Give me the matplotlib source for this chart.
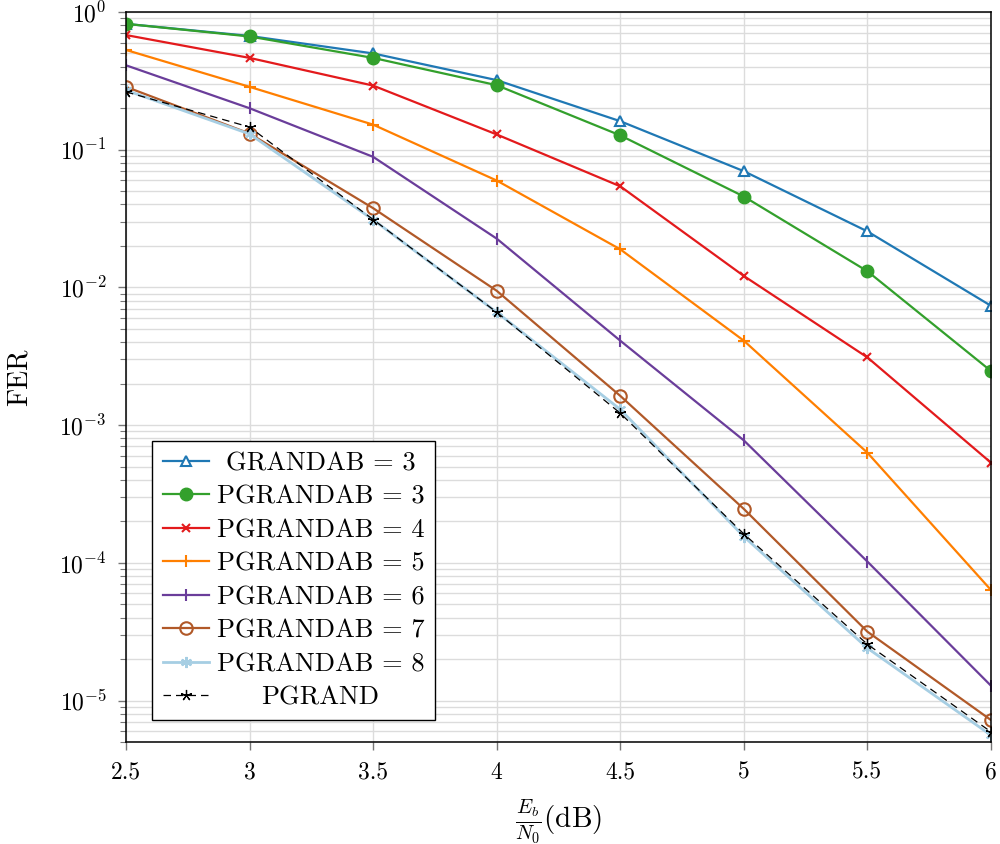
import matplotlib
matplotlib.use("Agg")
import matplotlib.pyplot as plt
from matplotlib.ticker import LogLocator, NullFormatter

plt.rcParams.update({
    "font.family": "serif",
    "font.serif": ["cmr10"],
    "mathtext.fontset": "cm",
    "axes.unicode_minus": False,
    "axes.formatter.use_mathtext": True,
})

# Eb/N0 in dB
snr_db = [2.5, 3.0, 3.5, 4.0, 4.5, 5.0, 5.5, 6.0]
x_tick_labels = ["2.5", "3", "3.5", "4", "4.5", "5", "5.5", "6"]

# Frame error rates
fer_grandab3 = [0.82, 0.67, 0.50, 0.32, 0.161, 0.0698, 0.0255, 0.00735]
fer_pgrandab3 = [0.82, 0.664, 0.464, 0.294, 0.127, 0.0457, 0.0131, 0.00247]
fer_pgrandab4 = [0.68, 0.464, 0.292, 0.129, 0.0542, 0.0121, 0.0031, 5.33e-4]
fer_pgrandab5 = [0.53, 0.286, 0.152, 0.0597, 0.0189, 0.0041, 6.3e-4, 6.34e-5]
fer_pgrandab6 = [0.41, 0.20, 0.0887, 0.0226, 0.0041, 7.74e-4, 1.02e-4, 1.28e-5]
fer_pgrandab7 = [0.286, 0.131, 0.0376, 0.00945, 1.63e-3, 2.46e-4, 3.16e-5, 7.21e-6]
fer_pgrandab8 = [0.27, 0.13, 0.031, 0.0066, 1.30e-3, 1.55e-4, 2.4e-5, 5.6e-6]
fer_pgrand = [0.263, 0.146, 0.0311, 0.0066, 1.22e-3, 1.62e-4, 2.56e-5, 5.92e-6]

labels = [
    "GRANDAB = 3",
    "PGRANDAB = 3",
    "PGRANDAB = 4",
    "PGRANDAB = 5",
    "PGRANDAB = 6",
    "PGRANDAB = 7",
    "PGRANDAB = 8",
    "PGRAND",
]

fig = plt.figure(figsize=(10, 8.44), dpi=100)
ax = fig.add_axes([0.126, 0.1209, 0.865, 0.8649])

lw = 1.6
ax.plot(snr_db, fer_grandab3, color="#1f78b4", lw=lw, marker="^", ms=7,
        mfc="white", mew=1.5, label=labels[0])
ax.plot(snr_db, fer_pgrandab3, color="#33a02c", lw=lw, marker="o", ms=9,
        label=labels[1])
ax.plot(snr_db, fer_pgrandab4, color="#e31a1c", lw=lw, marker="x", ms=6,
        mew=1.5, label=labels[2])
ax.plot(snr_db, fer_pgrandab5, color="#ff7f00", lw=lw, marker="+", ms=9,
        mew=1.5, label=labels[3])
ax.plot(snr_db, fer_pgrandab6, color="#6a3d9a", lw=lw, marker="|", ms=9,
        mew=1.5, label=labels[4])
ax.plot(snr_db, fer_pgrandab7, color="#b15928", lw=lw, marker="o", ms=9,
        mfc="none", mew=1.5, label=labels[5])
ax.plot(snr_db, fer_pgrandab8, color="#a6cee3", lw=2.0, marker=(6, 2, 0), ms=8,
        mew=1.5, label=labels[6])
ax.plot(snr_db, fer_pgrand, color="black", lw=0.9, ls=(0, (6, 4)),
        marker=(5, 2, 0), ms=8, mew=0.9, label=labels[7])

ax.set_yscale("log")
ax.set_xlim(2.5, 6.0)
ax.set_ylim(5e-6, 1.0)
ax.set_xticks(snr_db)
ax.set_xticklabels(x_tick_labels)
ax.yaxis.set_major_locator(LogLocator(base=10, numticks=10))
ax.yaxis.set_minor_locator(LogLocator(base=10, subs=range(2, 10), numticks=20))
ax.yaxis.set_minor_formatter(NullFormatter())

ax.grid(True, which="major", color="#dcdcdc", lw=1.0)
ax.grid(True, which="minor", axis="y", color="#dcdcdc", lw=1.0)
ax.set_axisbelow(True)

ax.tick_params(which="major", direction="out", length=6, width=1.0,
               color="#777777", labelsize=17, pad=8)
ax.tick_params(which="minor", direction="out", length=4, width=0.8,
               color="#777777")
ax.tick_params(top=False, right=False)
for s in ax.spines.values():
    s.set_linewidth(1.1)
    s.set_color("black")

ax.set_ylabel("FER", fontsize=20, labelpad=19)
ax.set_xlabel(r"$\frac{E_b}{N_0}(\mathrm{dB})$", fontsize=21, labelpad=10)

leg = ax.legend(loc="lower left", bbox_to_anchor=(0.030, 0.030),
                borderaxespad=0, fontsize=19, frameon=True, fancybox=False,
                framealpha=1, edgecolor="black", handlelength=1.75,
                handletextpad=0.3, labelspacing=0.37, borderpad=0.4)
leg.get_frame().set_linewidth(1.0)

# Center each legend entry's text inside the text column
fig.canvas.draw()
renderer = fig.canvas.get_renderer()
texts = leg.get_texts()
widths = [t.get_window_extent(renderer).width for t in texts]
wmax = max(widths)
for t, w in zip(texts, widths):
    t.set_x((wmax - w) / 2.0)

fig.savefig("out.png", dpi=100)
